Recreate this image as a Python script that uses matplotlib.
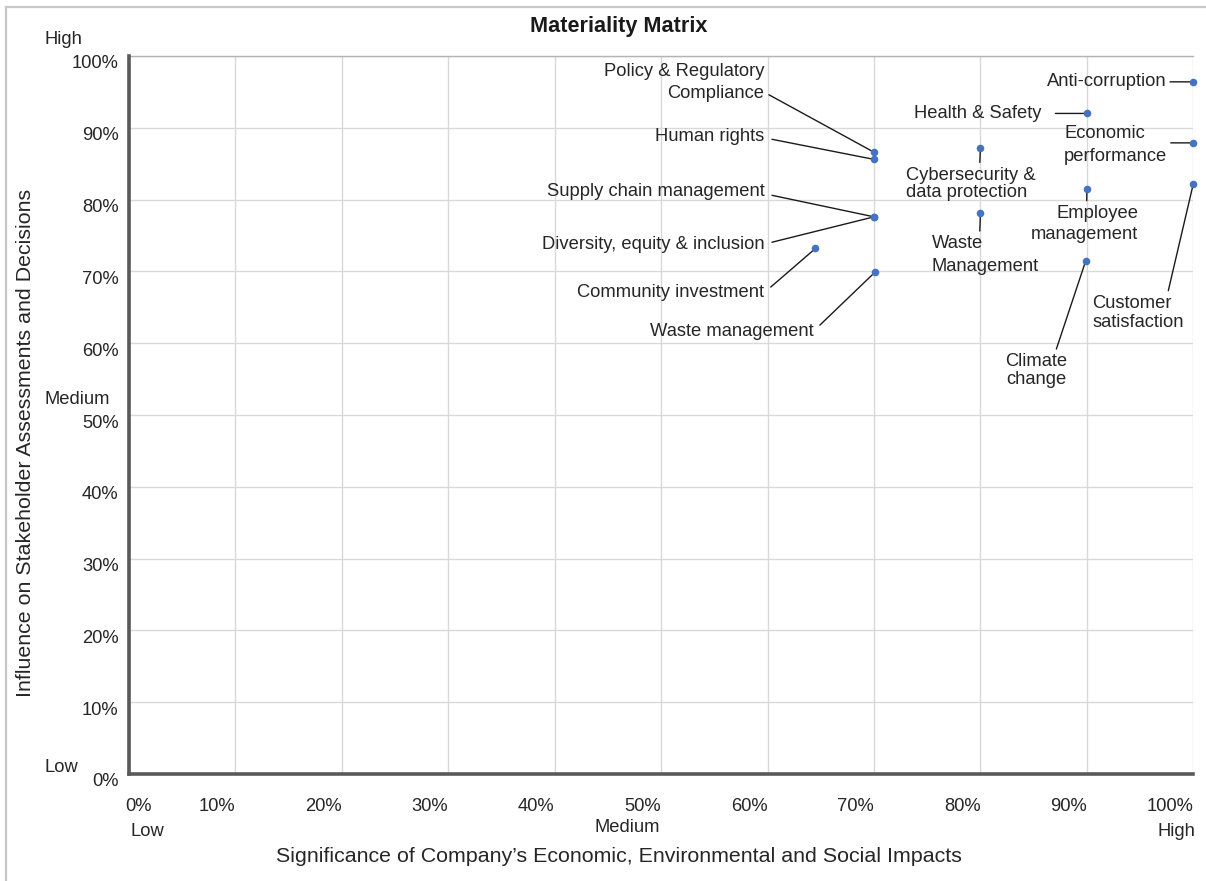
import matplotlib
matplotlib.use("Agg")
import matplotlib.pyplot as plt
from matplotlib.lines import Line2D
from matplotlib.transforms import ScaledTranslation

plt.rcParams['font.family'] = ['Liberation Sans', 'DejaVu Sans']

# ---------------- data ----------------
topics = [
    "Policy & Regulatory\nCompliance",
    "Human rights",
    "Supply chain management",
    "Diversity, equity & inclusion",
    "Community investment",
    "Waste management",
    "Anti-corruption",
    "Health & Safety",
    "Economic\nperformance",
    "Cybersecurity &\ndata protection",
    "Employee\nmanagement",
    "Waste\nManagement",
    "Customer\nsatisfaction",
    "Climate\nchange",
]
impact = [70, 70, 70, 70, 64.5, 70.1, 100, 90, 100, 80, 90, 80, 100, 89.9]
influence = [86.6, 85.6, 77.6, 77.6, 73.2, 69.9, 96.4, 92.0, 87.9, 87.2, 81.5, 78.1, 82.2, 71.5]

tick_values = [0, 10, 20, 30, 40, 50, 60, 70, 80, 90, 100]
tick_labels = ["0%", "10%", "20%", "30%", "40%", "50%", "60%", "70%", "80%", "90%", "100%"]
level_labels = ["Low", "Medium", "High"]
level_values = [0, 50, 100]

title = "Materiality Matrix"
xlabel = "Significance of Company\u2019s Economic, Environmental and Social Impacts"
ylabel = "Influence on Stakeholder Assessments and Decisions"

# ---------------- label layout (pixel offsets) ----------------
# (dx, dy, ha, multialign, relpos, shrinkA(pt), linespacing)
layout = [
    (-109.7, 69.6, 'right', 'right', (1.0, 0.25), 1.5, 1.35),
    (-109.7, 23.3, 'right', 'right', (1.0, 0.40), 3.6, 1.2),
    (-109.7, 25.7, 'right', 'right', (1.0, 0.35), 3.6, 1.2),
    (-109.7, -27.3, 'right', 'right', (1.0, 0.50), 3.6, 1.2),
    (-51.3, -44.3, 'right', 'right', (1.0, 0.50), 3.6, 1.2),
    (-61.0, -59.4, 'right', 'right', (1.0, 0.55), 3.0, 1.2),
    (-26.7, 0.0, 'right', 'right', (1.0, 0.50), 0.5, 1.2),
    (-45.3, 0.0, 'right', 'right', (1.0, 0.50), 8.0, 1.2),
    (-26.0, -2.0, 'right', 'left', (1.0, 0.55), 0.5, 1.49),
    (-74.7, -36.0, 'left', 'left', (0.57, 1.0), 1.0, 1.06),
    (51.3, -35.3, 'right', 'right', (0.52, 1.0), 1.0, 1.35),
    (-49.0, -42.0, 'left', 'left', (0.45, 1.0), 1.0, 1.47),
    (-101.0, -129.3, 'left', 'left', (0.82, 1.0), 1.0, 1.2),
    (-19.0, -109.8, 'right', 'right', (0.81, 1.0), 1.0, 1.05),
]

W, H = 1206, 881
fig = plt.figure(figsize=(W / 100, H / 100), dpi=100)
fig.patch.set_facecolor('white')

left, right, top, bottom = 129, 1193.3, 56, 774
ax = fig.add_axes([left / W, 1 - bottom / H, (right - left) / W, (bottom - top) / H])
ax.set_xlim(0, 100)
ax.set_ylim(0, 100)

grid_color = '#d9d9d9'
ax.set_xticks(tick_values)
ax.set_yticks(tick_values)
ax.grid(True, color=grid_color, lw=1.0, zorder=0)
ax.set_axisbelow(True)

ax.spines['right'].set_visible(False)
ax.spines['top'].set_color('#b3b3b3')
ax.spines['top'].set_linewidth(1.0)
for s in ['left', 'bottom']:
    ax.spines[s].set_color('#595959')
    ax.spines[s].set_linewidth(2.6)
    ax.spines[s].set_zorder(4)

text_color = '#262626'
fs = 13.2
ax.tick_params(length=0, colors=text_color, labelsize=fs)
ax.tick_params(axis='x', pad=17)
ax.tick_params(axis='y', pad=7.5)
ax.set_xticklabels(tick_labels)
ax.set_yticklabels(tick_labels)
for i, lab in enumerate(ax.get_xticklabels()):
    lab.set_ha('right')
    if i == 0:
        lab.set_ha('left')
        lab.set_transform(lab.get_transform() + ScaledTranslation(-4 / 100, 0, fig.dpi_scale_trans))
for lab in ax.get_yticklabels():
    lab.set_transform(lab.get_transform() + ScaledTranslation(0, -6 / 100, fig.dpi_scale_trans))

# level labels on x axis
x_level_layout = [(1, -58, 'left'), (-1, -53, 'right'), (2, -58, 'right')]
for lab, val, (dx, dy, ha) in zip(level_labels, level_values, x_level_layout):
    ax.annotate(lab, xy=(val, 0), xycoords=('data', 'axes fraction'),
                xytext=(dx, dy), textcoords='offset pixels',
                ha=ha, va='center', fontsize=fs, color=text_color, annotation_clip=False)
# level labels on y axis
y_level_layout = [7, 15, 16]
for lab, val, dy in zip(level_labels, level_values, y_level_layout):
    ax.annotate(lab, xy=(0, val), xycoords=('axes fraction', 'data'),
                xytext=(45 - left, dy), textcoords='offset pixels',
                ha='left', va='center', fontsize=fs, color=text_color, annotation_clip=False)

# points
ax.scatter(impact, influence, s=30, color='#4472C4', zorder=5, clip_on=False, linewidths=0)

# labels with leader lines
for name, x, y, (dx, dy, ha, ma, rp, sA, ls) in zip(topics, impact, influence, layout):
    ax.annotate(name, xy=(x, y), xytext=(dx, dy), textcoords='offset pixels',
                ha=ha, va='center', multialignment=ma, fontsize=fs, color=text_color,
                linespacing=ls, annotation_clip=False,
                arrowprops=dict(arrowstyle='-', color='#1a1a1a', lw=1.0,
                                relpos=rp, shrinkA=sA, shrinkB=2.0))

# titles
fig.text(618.3 / W, 1 - 26.7 / H, title, ha='center', va='center',
         fontsize=15.6, fontweight='bold', color='#1a1a1a')
fig.text(619 / W, 1 - 857 / H, xlabel, ha='center', va='center', fontsize=15.4, color=text_color)
fig.text(26 / W, 1 - 442.5 / H, ylabel, ha='center', va='center', rotation=90,
         fontsize=15.4, color=text_color)

# frame border (top + left)
border = '#c8c8c8'
fig.add_artist(Line2D([6 / W, 1.0], [1 - 7 / H, 1 - 7 / H], color=border, lw=1.6, transform=fig.transFigure))
fig.add_artist(Line2D([6 / W, 6 / W], [0.0, 1 - 7 / H], color=border, lw=1.6, transform=fig.transFigure))

fig.savefig('out.png', dpi=100, facecolor='white')
